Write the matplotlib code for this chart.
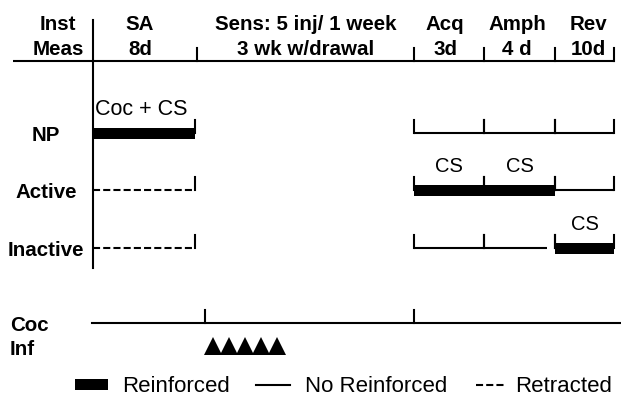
import matplotlib
matplotlib.use("Agg")
import matplotlib.pyplot as plt

# ---------------- data ----------------
phase_top = ["SA", "Sens: 5 inj/ 1 week", "Acq", "Amph", "Rev"]
phase_bottom = ["8d", "3 wk w/drawal", "3d", "4 d", "10d"]
phase_edges = [93, 197, 414, 484, 555, 614]      # schematic time axis boundaries
phase_text_x = [140, 306, 445, 517, 588]

rows = ["NP", "Active", "Inactive"]
row_y = [133, 190, 248]
# R = reinforced, N = no reinforcement, X = retracted, None = not tested
np_status = ["R", None, "N", "N", "N"]
active_status = ["X", None, "R", "R", "N"]
inactive_status = ["X", None, "N", "N", "R"]
np_labels = ["Coc + CS", "", "", "", ""]
active_labels = ["", "", "CS", "CS", ""]
inactive_labels = ["", "", "", "", "CS"]

coc_inf_ticks = [205, 414]
injection_x = [213, 229, 245, 261, 277]

legend_labels = ["Reinforced", "No Reinforced", "Retracted"]

# ---------------- figure ----------------
fig = plt.figure(figsize=(6.21, 4.01), dpi=100)
ax = fig.add_axes([0, 0, 1, 1])
ax.set_xlim(0, 621)
ax.set_ylim(401, 0)
ax.axis("off")

BOLD = dict(family="Liberation Sans", weight="bold", fontsize=14.8, color="black")
REG = dict(family="Liberation Sans", fontsize=14.5, color="black")
LW = 1.5
K = "black"
dash = (0, (3.4, 1.5))

# header
ax.text(58, 30, "Inst", ha="center", va="baseline", **BOLD)
ax.text(58, 55, "Meas", ha="center", va="baseline", **BOLD)
for x, t, b in zip(phase_text_x, phase_top, phase_bottom):
    ax.text(x, 30, t, ha="center", va="baseline", **BOLD)
    ax.text(x, 55, b, ha="center", va="baseline", **BOLD)
ax.plot([13, 615], [61, 61], color=K, lw=LW, solid_capstyle="butt")
for x in phase_edges[1:]:
    ax.plot([x, x], [48, 61], color=K, lw=LW)

# main vertical divider
ax.plot([93, 93], [20, 268], color=K, lw=LW)

# rows
statuses = [np_status, active_status, inactive_status]
labels = [np_labels, active_labels, inactive_labels]
TICK = 13
BAR_H = 11
for name, y, st, lab in zip(rows, row_y, statuses, labels):
    ax.text(46, y + 8, name, ha="center", va="baseline", **BOLD)
    for i, s in enumerate(st):
        if s is None:
            continue
        x0, x1 = phase_edges[i], phase_edges[i + 1]
        if i == 0:
            x1 = x1 - 2
        nxt = st[i + 1] if i + 1 < len(st) else None
        if s == "R":
            ax.barh(y, x1 - x0, left=x0, height=BAR_H, color=K, edgecolor=K, linewidth=0)
        elif s == "N":
            xe = x1 - 8 if nxt == "R" else x1
            ax.plot([x0, xe], [y, y], color=K, lw=LW, solid_capstyle="butt")
        elif s == "X":
            ax.plot([x0, x1 - 3], [y, y], color=K, lw=LW, linestyle=dash)
        # ticks at segment boundaries
        if i > 0:
            ax.plot([x0, x0], [y - TICK, y], color=K, lw=LW)
        ax.plot([x1, x1], [y - TICK, y], color=K, lw=LW)
        if lab[i]:
            if i == 0:
                ax.text(x0 + 2, y - 18, lab[i], ha="left", va="baseline",
                        **dict(REG, fontsize=15.5))
            else:
                ax.text((x0 + x1) / 2, y - 18, lab[i], ha="center", va="baseline", **REG)

# Coc Inf timeline
ax.text(10, 331, "Coc", ha="left", va="baseline", **BOLD)
ax.text(10, 355, "Inf", ha="left", va="baseline", **BOLD)
ax.plot([92, 621], [323, 323], color=K, lw=LW)
for x in coc_inf_ticks:
    ax.plot([x, x], [310, 323], color=K, lw=LW)
ax.plot(injection_x, [346] * len(injection_x), linestyle="none", marker="^",
        markersize=13, color=K, markeredgewidth=0)

# legend
LEG = dict(REG, fontsize=16)
ax.barh(384, 33, left=75, height=11, color=K, linewidth=0)
ax.text(122, 392, legend_labels[0], ha="left", va="baseline", **LEG)
ax.plot([256, 290], [385, 385], color=K, lw=LW)
ax.text(305, 392, legend_labels[1], ha="left", va="baseline", **LEG)
ax.plot([476, 505], [385, 385], color=K, lw=LW, linestyle=dash)
ax.text(515, 392, legend_labels[2], ha="left", va="baseline", **LEG)

fig.savefig("out.png", dpi=100, facecolor="white")
